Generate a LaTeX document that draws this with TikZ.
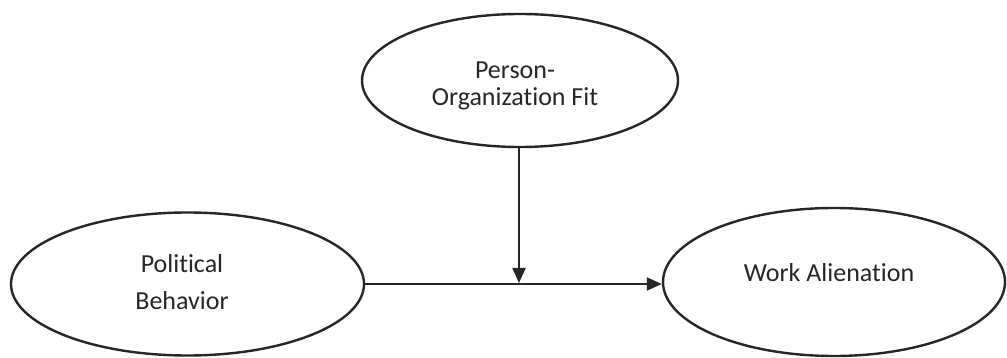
\documentclass[tikz,border=0pt]{standalone}
\usepackage{fontspec}
\setmainfont[Ligatures={NoCommon,NoRare}]{Carlito}
\usetikzlibrary{arrows.meta,shapes.geometric}
\begin{document}
\begin{tikzpicture}[x=1pt,y=-1pt,
  construct/.style={draw=black!85,line width=2.4pt,ellipse,inner sep=0pt},
  lbl/.style={font=\fontsize{26}{28}\selectfont,text=black!85,align=center,inner sep=0pt},
  conn/.style={draw=black!85,line width=2pt,-{Triangle[length=15pt,width=13pt]}}]
\useasboundingbox (0,0) rectangle (1007,358);
\node[construct,minimum width=316pt,minimum height=133pt] (POF) at (520,80.5) {};
\node[construct,minimum width=353pt,minimum height=143pt] (PB) at (187.5,284) {};
\node[construct,minimum width=342pt,minimum height=148pt] (WA) at (834,282) {};
\node[lbl,font=\fontsize{26}{27.5}\selectfont] (tPOF) at (515,86) {Person-\\Organization Fit};
\node[lbl,font=\fontsize{26}{37.5}\selectfont] (tPB) at (182,282) {Political\\Behavior};
\node[lbl] (tWA) at (829,273) {Work Alienation};
\draw[conn] (PB.east) -- (PB.east -| WA.west);
\coordinate (J) at (519,283);
\draw[conn] (POF.south -| J) -- (J);
\end{tikzpicture}
\end{document}
